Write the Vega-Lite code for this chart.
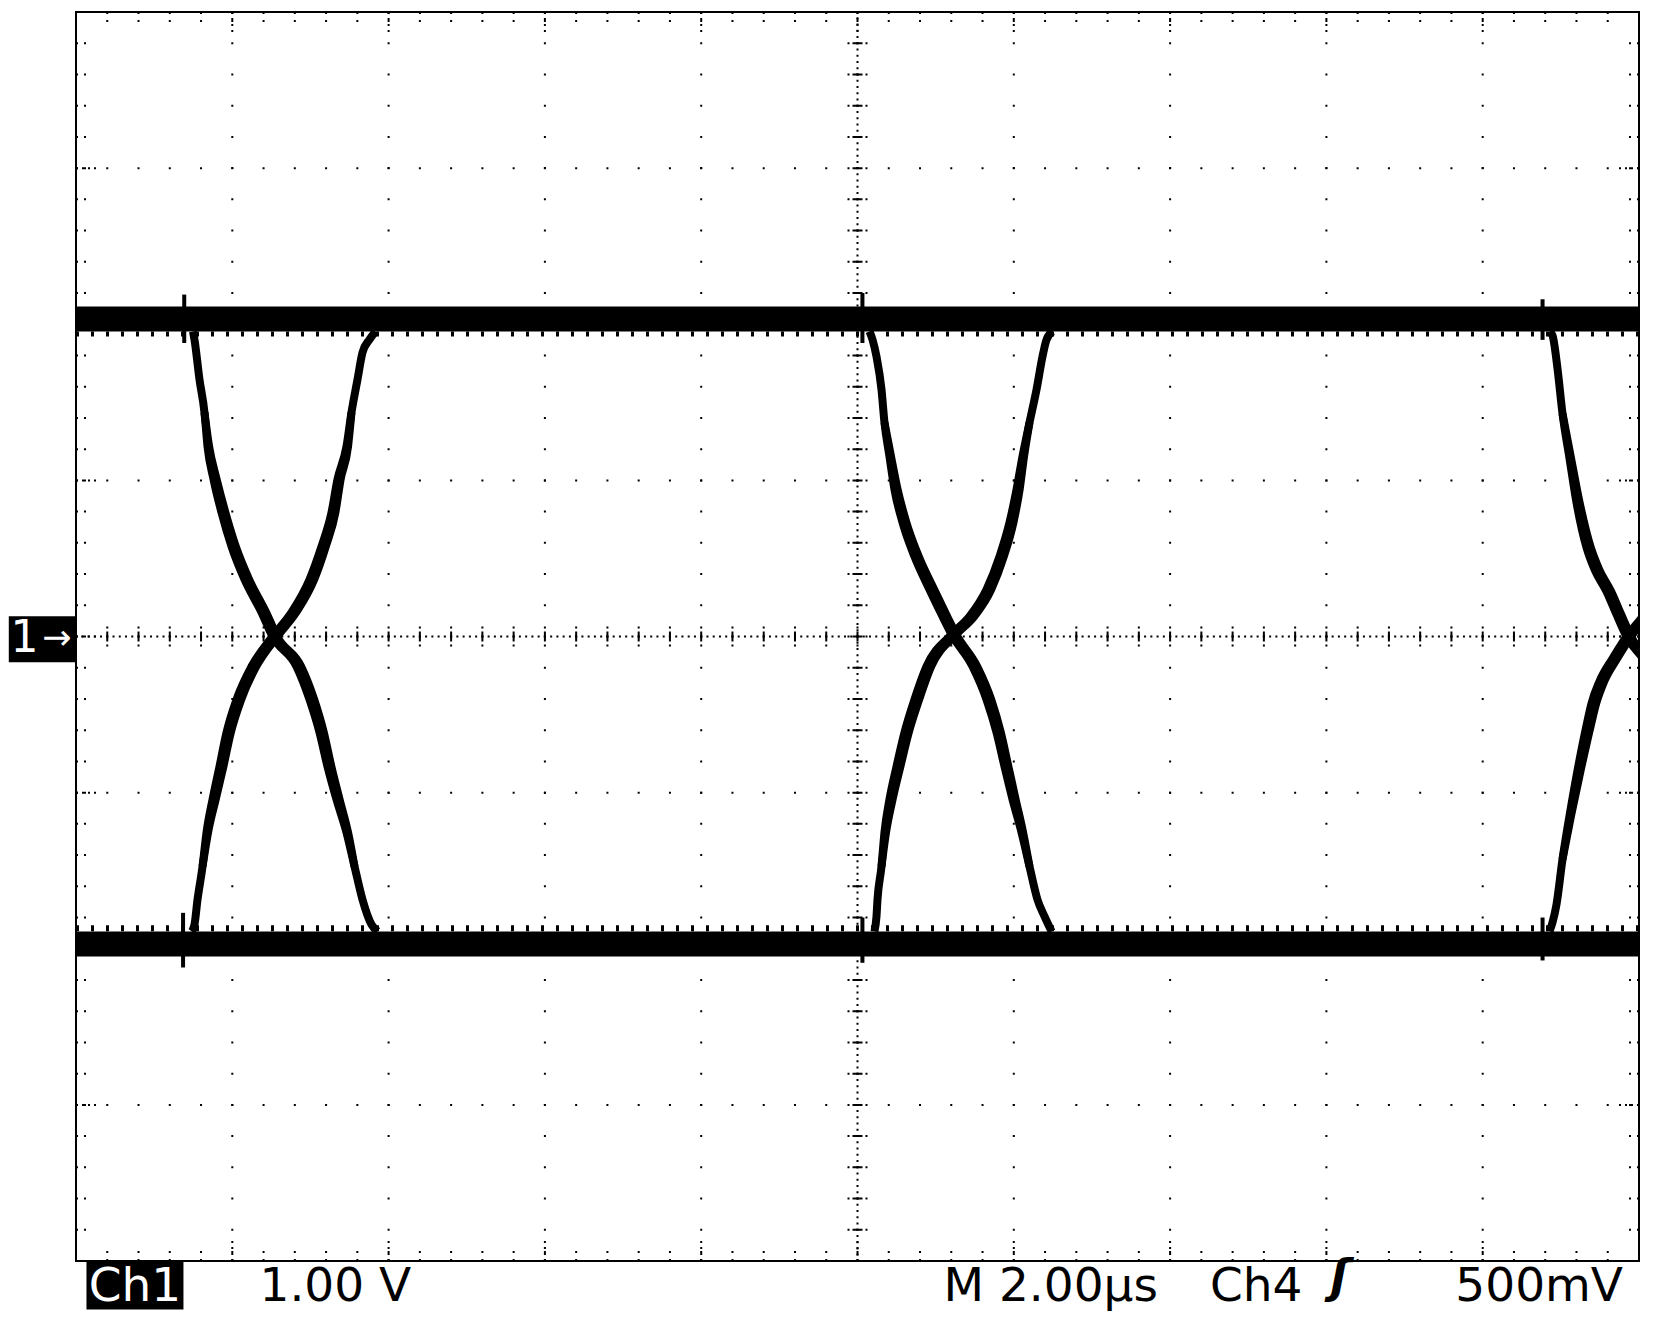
{
 "$schema": "https://vega.github.io/schema/vega-lite/v6.json",
 "width": 1563, "height": 1249,
 "autosize": {"type": "none"},
 "padding": {"left": 76, "top": 12, "right": 21, "bottom": 65},
 "background": "white",
 "config": {"view": {"stroke": "black", "strokeWidth": 2}, "axis": {"disable": true}},
 "datasets": {
  "txall": [{"t":0.4},{"t":0.8},{"t":1.2},{"t":1.6},{"t":2},{"t":2.4},{"t":2.8},{"t":3.2},{"t":3.6},{"t":4},{"t":4.4},{"t":4.8},{"t":5.2},{"t":5.6},{"t":6},{"t":6.4},{"t":6.8},{"t":7.2},{"t":7.6},{"t":8},{"t":8.4},{"t":8.8},{"t":9.2},{"t":9.6},{"t":10},{"t":10.4},{"t":10.8},{"t":11.2},{"t":11.6},{"t":12},{"t":12.4},{"t":12.8},{"t":13.2},{"t":13.6},{"t":14},{"t":14.4},{"t":14.8},{"t":15.2},{"t":15.6},{"t":16},{"t":16.4},{"t":16.8},{"t":17.2},{"t":17.6},{"t":18},{"t":18.4},{"t":18.8},{"t":19.2},{"t":19.6}],
  "tmaj": [{"t":2},{"t":4},{"t":6},{"t":8},{"t":10},{"t":12},{"t":14},{"t":16},{"t":18}],
  "vyall": [{"v":-3.8},{"v":-3.6},{"v":-3.4},{"v":-3.2},{"v":-3},{"v":-2.8},{"v":-2.6},{"v":-2.4},{"v":-2.2},{"v":-2},{"v":-1.8},{"v":-1.6},{"v":-1.4},{"v":-1.2},{"v":-1},{"v":-0.8},{"v":-0.6},{"v":-0.4},{"v":-0.2},{"v":0},{"v":0.2},{"v":0.4},{"v":0.6},{"v":0.8},{"v":1},{"v":1.2},{"v":1.4},{"v":1.6},{"v":1.8},{"v":2},{"v":2.2},{"v":2.4},{"v":2.6},{"v":2.8},{"v":3},{"v":3.2},{"v":3.4},{"v":3.6},{"v":3.8}],
  "vmaj": [{"v":-3},{"v":-2},{"v":-1},{"v":0},{"v":1},{"v":2},{"v":3}],
  "bands": [{"t1":0,"t2":20,"v1":1.954,"v2":2.114},{"t1":0,"t2":20,"v1":-1.889,"v2":-2.05}],
  "spikes": [{"t":1.385,"v1":1.88,"v2":2.19},{"t":1.37,"v1":-1.77,"v2":-2.12},{"t":10.063,"v1":1.88,"v2":2.2},{"t":10.063,"v1":-1.8,"v2":-2.09},{"t":18.766,"v1":1.9,"v2":2.16},{"t":18.766,"v1":-1.8,"v2":-2.075}],
  "traces": [
   {"e":"1f","t":1.497,"v":1.954},{"e":"1f","t":1.516,"v":1.902},{"e":"1f","t":1.58,"v":1.646},{"e":"1f","t":1.644,"v":1.435},{"e":"1f","t":1.683,"v":1.217},{"e":"1f","t":1.76,"v":1.006},{"e":"1f","t":1.862,"v":0.794},{"e":"1f","t":1.99,"v":0.576},{"e":"1f","t":2.156,"v":0.365},{"e":"1f","t":2.374,"v":0.154},{"e":"1f","t":2.514,"v":0},{"e":"1f","t":2.821,"v":-0.192},{"e":"1f","t":2.988,"v":-0.404},{"e":"1f","t":3.116,"v":-0.615},{"e":"1f","t":3.218,"v":-0.833},{"e":"1f","t":3.333,"v":-1.044},{"e":"1f","t":3.461,"v":-1.255},{"e":"1f","t":3.564,"v":-1.473},{"e":"1f","t":3.666,"v":-1.685},{"e":"1f","t":3.781,"v":-1.845},{"e":"1f","t":3.858,"v":-1.889},
   {"e":"1r","t":1.481,"v":-1.889},{"e":"1r","t":1.516,"v":-1.845},{"e":"1r","t":1.555,"v":-1.685},{"e":"1r","t":1.619,"v":-1.473},{"e":"1r","t":1.67,"v":-1.255},{"e":"1r","t":1.747,"v":-1.044},{"e":"1r","t":1.836,"v":-0.833},{"e":"1r","t":1.926,"v":-0.615},{"e":"1r","t":2.054,"v":-0.404},{"e":"1r","t":2.246,"v":-0.192},{"e":"1r","t":2.514,"v":0},{"e":"1r","t":2.757,"v":0.154},{"e":"1r","t":2.988,"v":0.365},{"e":"1r","t":3.141,"v":0.576},{"e":"1r","t":3.269,"v":0.794},{"e":"1r","t":3.346,"v":1.006},{"e":"1r","t":3.461,"v":1.217},{"e":"1r","t":3.525,"v":1.435},{"e":"1r","t":3.602,"v":1.646},{"e":"1r","t":3.666,"v":1.819},{"e":"1r","t":3.755,"v":1.902},{"e":"1r","t":3.832,"v":1.954},
   {"e":"2f","t":10.153,"v":1.954},{"e":"2f","t":10.192,"v":1.902},{"e":"2f","t":10.243,"v":1.793},{"e":"2f","t":10.307,"v":1.582},{"e":"2f","t":10.345,"v":1.371},{"e":"2f","t":10.409,"v":1.153},{"e":"2f","t":10.473,"v":0.942},{"e":"2f","t":10.576,"v":0.73},{"e":"2f","t":10.729,"v":0.512},{"e":"2f","t":10.921,"v":0.301},{"e":"2f","t":11.088,"v":0.128},{"e":"2f","t":11.203,"v":0.013},{"e":"2f","t":11.472,"v":-0.192},{"e":"2f","t":11.651,"v":-0.404},{"e":"2f","t":11.779,"v":-0.615},{"e":"2f","t":11.881,"v":-0.833},{"e":"2f","t":11.984,"v":-1.044},{"e":"2f","t":12.099,"v":-1.255},{"e":"2f","t":12.201,"v":-1.473},{"e":"2f","t":12.303,"v":-1.685},{"e":"2f","t":12.393,"v":-1.793},{"e":"2f","t":12.483,"v":-1.889},
   {"e":"2r","t":10.217,"v":-1.889},{"e":"2r","t":10.243,"v":-1.793},{"e":"2r","t":10.256,"v":-1.685},{"e":"2r","t":10.307,"v":-1.473},{"e":"2r","t":10.345,"v":-1.255},{"e":"2r","t":10.409,"v":-1.044},{"e":"2r","t":10.499,"v":-0.833},{"e":"2r","t":10.601,"v":-0.615},{"e":"2r","t":10.729,"v":-0.404},{"e":"2r","t":10.883,"v":-0.192},{"e":"2r","t":11.203,"v":0.013},{"e":"2r","t":11.433,"v":0.128},{"e":"2r","t":11.651,"v":0.301},{"e":"2r","t":11.817,"v":0.512},{"e":"2r","t":11.945,"v":0.73},{"e":"2r","t":12.035,"v":0.942},{"e":"2r","t":12.111,"v":1.153},{"e":"2r","t":12.201,"v":1.371},{"e":"2r","t":12.291,"v":1.582},{"e":"2r","t":12.367,"v":1.793},{"e":"2r","t":12.419,"v":1.902},{"e":"2r","t":12.496,"v":1.954},
   {"e":"3f","t":18.855,"v":1.954},{"e":"3f","t":18.893,"v":1.928},{"e":"3f","t":18.957,"v":1.717},{"e":"3f","t":19.021,"v":1.428},{"e":"3f","t":19.111,"v":1.14},{"e":"3f","t":19.2,"v":0.858},{"e":"3f","t":19.328,"v":0.57},{"e":"3f","t":19.431,"v":0.429},{"e":"3f","t":19.584,"v":0.288},{"e":"3f","t":19.712,"v":0.141},{"e":"3f","t":19.84,"v":0},{"e":"3f","t":20.109,"v":-0.192},{"e":"3f","t":20.275,"v":-0.404},
   {"e":"3r","t":18.855,"v":-1.889},{"e":"3r","t":18.893,"v":-1.832},{"e":"3r","t":18.944,"v":-1.717},{"e":"3r","t":19.021,"v":-1.428},{"e":"3r","t":19.111,"v":-1.147},{"e":"3r","t":19.213,"v":-0.858},{"e":"3r","t":19.328,"v":-0.57},{"e":"3r","t":19.392,"v":-0.429},{"e":"3r","t":19.494,"v":-0.288},{"e":"3r","t":19.661,"v":-0.141},{"e":"3r","t":19.84,"v":0},{"e":"3r","t":20.083,"v":0.154},{"e":"3r","t":20.314,"v":0.365},
   {"e":"1fb","t":1.644,"v":1.435},{"e":"1fb","t":1.703,"v":1.217},{"e":"1fb","t":1.8,"v":1.006},{"e":"1fb","t":1.912,"v":0.794},{"e":"1fb","t":2.045,"v":0.576},{"e":"1fb","t":2.216,"v":0.365},{"e":"1fb","t":2.434,"v":0.154},{"e":"1fb","t":2.574,"v":0},{"e":"1fb","t":2.881,"v":-0.192},{"e":"1fb","t":3.048,"v":-0.404},{"e":"1fb","t":3.171,"v":-0.615},{"e":"1fb","t":3.268,"v":-0.833},{"e":"1fb","t":3.373,"v":-1.044},{"e":"1fb","t":3.481,"v":-1.255},{"e":"1fb","t":3.564,"v":-1.473},
   {"e":"1rb","t":1.619,"v":-1.473},{"e":"1rb","t":1.69,"v":-1.255},{"e":"1rb","t":1.787,"v":-1.044},{"e":"1rb","t":1.886,"v":-0.833},{"e":"1rb","t":1.981,"v":-0.615},{"e":"1rb","t":2.114,"v":-0.404},{"e":"1rb","t":2.306,"v":-0.192},{"e":"1rb","t":2.574,"v":0},{"e":"1rb","t":2.817,"v":0.154},{"e":"1rb","t":3.048,"v":0.365},{"e":"1rb","t":3.196,"v":0.576},{"e":"1rb","t":3.319,"v":0.794},{"e":"1rb","t":3.386,"v":1.006},{"e":"1rb","t":3.481,"v":1.217},{"e":"1rb","t":3.525,"v":1.435},
   {"e":"2fb","t":10.345,"v":1.371},{"e":"2fb","t":10.429,"v":1.153},{"e":"2fb","t":10.513,"v":0.942},{"e":"2fb","t":10.626,"v":0.73},{"e":"2fb","t":10.784,"v":0.512},{"e":"2fb","t":10.981,"v":0.301},{"e":"2fb","t":11.148,"v":0.128},{"e":"2fb","t":11.263,"v":0.013},{"e":"2fb","t":11.532,"v":-0.192},{"e":"2fb","t":11.711,"v":-0.404},{"e":"2fb","t":11.834,"v":-0.615},{"e":"2fb","t":11.931,"v":-0.833},{"e":"2fb","t":12.024,"v":-1.044},{"e":"2fb","t":12.119,"v":-1.255},{"e":"2fb","t":12.201,"v":-1.473},
   {"e":"2rb","t":10.307,"v":-1.473},{"e":"2rb","t":10.365,"v":-1.255},{"e":"2rb","t":10.449,"v":-1.044},{"e":"2rb","t":10.549,"v":-0.833},{"e":"2rb","t":10.656,"v":-0.615},{"e":"2rb","t":10.789,"v":-0.404},{"e":"2rb","t":10.943,"v":-0.192},{"e":"2rb","t":11.263,"v":0.013},{"e":"2rb","t":11.493,"v":0.128},{"e":"2rb","t":11.711,"v":0.301},{"e":"2rb","t":11.872,"v":0.512},{"e":"2rb","t":11.995,"v":0.73},{"e":"2rb","t":12.075,"v":0.942},{"e":"2rb","t":12.131,"v":1.153},{"e":"2rb","t":12.201,"v":1.371},
   {"e":"3fb","t":19.021,"v":1.428},{"e":"3fb","t":19.131,"v":1.14},{"e":"3fb","t":19.24,"v":0.858},{"e":"3fb","t":19.383,"v":0.57},{"e":"3fb","t":19.491,"v":0.429},{"e":"3fb","t":19.644,"v":0.288},{"e":"3fb","t":19.772,"v":0.141},{"e":"3fb","t":19.9,"v":0},{"e":"3fb","t":20.169,"v":-0.192},
   {"e":"3rb","t":19.021,"v":-1.428},{"e":"3rb","t":19.131,"v":-1.147},{"e":"3rb","t":19.253,"v":-0.858},{"e":"3rb","t":19.383,"v":-0.57},{"e":"3rb","t":19.452,"v":-0.429},{"e":"3rb","t":19.554,"v":-0.288},{"e":"3rb","t":19.721,"v":-0.141},{"e":"3rb","t":19.9,"v":0},{"e":"3rb","t":20.143,"v":0.154}
  ]
 },
 "layer": [
  {"data":{"name":"tmaj"},"mark":{"type":"rule","color":"black","strokeWidth":2,"strokeDash":[2,29.225],"strokeDashOffset":1},
   "encoding":{"x":{"field":"t","type":"quantitative","scale":{"domain":[0,20],"nice":false,"zero":false}},"y":{"datum":4,"type":"quantitative","scale":{"domain":[-4,4],"nice":false,"zero":false}},"y2":{"datum":-4}}},
  {"data":{"name":"vmaj"},"mark":{"type":"rule","color":"black","strokeWidth":2,"strokeDash":[2,29.26],"strokeDashOffset":1},
   "encoding":{"y":{"field":"v","type":"quantitative","scale":{"domain":[-4,4],"nice":false,"zero":false}},"x":{"datum":0,"type":"quantitative","scale":{"domain":[0,20],"nice":false,"zero":false}},"x2":{"datum":20}}},
  {"data":{"values":[{}]},"mark":{"type":"rule","color":"black","strokeWidth":2,"strokeDash":[2,4.245],"strokeDashOffset":1},
   "encoding":{"x":{"datum":10,"type":"quantitative","scale":{"domain":[0,20],"nice":false,"zero":false}},"y":{"datum":4,"type":"quantitative","scale":{"domain":[-4,4],"nice":false,"zero":false}},"y2":{"datum":-4}}},
  {"data":{"values":[{}]},"mark":{"type":"rule","color":"black","strokeWidth":2,"strokeDash":[2,4.252],"strokeDashOffset":1},
   "encoding":{"y":{"datum":0,"type":"quantitative","scale":{"domain":[-4,4],"nice":false,"zero":false}},"x":{"datum":0,"type":"quantitative","scale":{"domain":[0,20],"nice":false,"zero":false}},"x2":{"datum":20}}},
  {"data":{"name":"txall"},"mark":{"type":"rule","color":"black","strokeWidth":2,"strokeDash":[2,3,10,3,2]},
   "encoding":{"x":{"field":"t","type":"quantitative","scale":{"domain":[0,20],"nice":false,"zero":false}},"y":{"datum":0.064,"type":"quantitative","scale":{"domain":[-4,4],"nice":false,"zero":false}},"y2":{"datum":-0.064}}},
  {"data":{"name":"vyall"},"mark":{"type":"rule","color":"black","strokeWidth":2,"strokeDash":[2,3,10,3,2]},
   "encoding":{"y":{"field":"v","type":"quantitative","scale":{"domain":[-4,4],"nice":false,"zero":false}},"x":{"datum":9.872,"type":"quantitative","scale":{"domain":[0,20],"nice":false,"zero":false}},"x2":{"datum":10.128}}},
  {"data":{"name":"txall"},"mark":{"type":"rule","color":"black","strokeWidth":2,"strokeDash":[2,6,2]},
   "encoding":{"x":{"field":"t","type":"quantitative","scale":{"domain":[0,20],"nice":false,"zero":false}},"y":{"datum":-4,"type":"quantitative","scale":{"domain":[-4,4],"nice":false,"zero":false}},"y2":{"datum":-3.936}}},
  {"data":{"name":"txall"},"mark":{"type":"rule","color":"black","strokeWidth":2,"strokeDash":[2,6,2]},
   "encoding":{"x":{"field":"t","type":"quantitative","scale":{"domain":[0,20],"nice":false,"zero":false}},"y":{"datum":4,"type":"quantitative","scale":{"domain":[-4,4],"nice":false,"zero":false}},"y2":{"datum":3.936}}},
  {"data":{"name":"vyall"},"mark":{"type":"rule","color":"black","strokeWidth":2,"strokeDash":[2,6,2]},
   "encoding":{"y":{"field":"v","type":"quantitative","scale":{"domain":[-4,4],"nice":false,"zero":false}},"x":{"datum":0,"type":"quantitative","scale":{"domain":[0,20],"nice":false,"zero":false}},"x2":{"datum":0.128}}},
  {"data":{"name":"vyall"},"mark":{"type":"rule","color":"black","strokeWidth":2,"strokeDash":[2,6,2]},
   "encoding":{"y":{"field":"v","type":"quantitative","scale":{"domain":[-4,4],"nice":false,"zero":false}},"x":{"datum":20,"type":"quantitative","scale":{"domain":[0,20],"nice":false,"zero":false}},"x2":{"datum":19.872}}},
  {"data":{"name":"tmaj"},"mark":{"type":"rule","color":"black","strokeWidth":2,"strokeDash":[2,4]},
   "encoding":{"x":{"field":"t","type":"quantitative","scale":{"domain":[0,20],"nice":false,"zero":false}},"y":{"datum":-4,"type":"quantitative","scale":{"domain":[-4,4],"nice":false,"zero":false}},"y2":{"datum":-3.872}}},
  {"data":{"name":"tmaj"},"mark":{"type":"rule","color":"black","strokeWidth":2,"strokeDash":[2,4]},
   "encoding":{"x":{"field":"t","type":"quantitative","scale":{"domain":[0,20],"nice":false,"zero":false}},"y":{"datum":4,"type":"quantitative","scale":{"domain":[-4,4],"nice":false,"zero":false}},"y2":{"datum":3.872}}},
  {"data":{"name":"vmaj"},"mark":{"type":"rule","color":"black","strokeWidth":2,"strokeDash":[2,4]},
   "encoding":{"y":{"field":"v","type":"quantitative","scale":{"domain":[-4,4],"nice":false,"zero":false}},"x":{"datum":0,"type":"quantitative","scale":{"domain":[0,20],"nice":false,"zero":false}},"x2":{"datum":0.256}}},
  {"data":{"name":"vmaj"},"mark":{"type":"rule","color":"black","strokeWidth":2,"strokeDash":[2,4]},
   "encoding":{"y":{"field":"v","type":"quantitative","scale":{"domain":[-4,4],"nice":false,"zero":false}},"x":{"datum":20,"type":"quantitative","scale":{"domain":[0,20],"nice":false,"zero":false}},"x2":{"datum":19.744}}},
  {"data":{"name":"bands"},"mark":{"type":"rect","color":"black"},
   "encoding":{"x":{"field":"t1","type":"quantitative","scale":{"domain":[0,20],"nice":false,"zero":false}},"x2":{"field":"t2"},"y":{"field":"v1","type":"quantitative","scale":{"domain":[-4,4],"nice":false,"zero":false}},"y2":{"field":"v2"}}},
  {"data":{"values":[{}]},"mark":{"type":"rule","color":"black","strokeWidth":5,"strokeDash":[3,12]},
   "encoding":{"y":{"datum":1.938,"type":"quantitative","scale":{"domain":[-4,4],"nice":false,"zero":false}},"x":{"datum":0,"type":"quantitative","scale":{"domain":[0,20],"nice":false,"zero":false}},"x2":{"datum":20}}},
  {"data":{"values":[{}]},"mark":{"type":"rule","color":"black","strokeWidth":6,"strokeDash":[3,12]},
   "encoding":{"y":{"datum":-1.868,"type":"quantitative","scale":{"domain":[-4,4],"nice":false,"zero":false}},"x":{"datum":0,"type":"quantitative","scale":{"domain":[0,20],"nice":false,"zero":false}},"x2":{"datum":20}}},
  {"data":{"name":"spikes"},"mark":{"type":"rule","color":"black","strokeWidth":4},
   "encoding":{"x":{"field":"t","type":"quantitative","scale":{"domain":[0,20],"nice":false,"zero":false}},"y":{"field":"v1","type":"quantitative","scale":{"domain":[-4,4],"nice":false,"zero":false}},"y2":{"field":"v2"}}},
  {"data":{"name":"traces"},"mark":{"type":"line","color":"black","strokeWidth":8,"strokeJoin":"round","interpolate":"monotone","clip":true},
   "encoding":{"x":{"field":"t","type":"quantitative","scale":{"domain":[0,20],"nice":false,"zero":false}},"y":{"field":"v","type":"quantitative","scale":{"domain":[-4,4],"nice":false,"zero":false}},"detail":{"field":"e"},"order":{"field":"t","type":"quantitative"}}},
  {"data":{"values":[{}]},"mark":{"type":"rect","color":"black"},
   "encoding":{"x":{"datum":0.134,"type":"quantitative","scale":{"domain":[0,20],"nice":false,"zero":false}},"x2":{"datum":1.375},"y":{"datum":-4.0,"type":"quantitative","scale":{"domain":[-4,4],"nice":false,"zero":false}},"y2":{"datum":-4.31}}},
  {"data":{"values":[{}]},"mark":{"type":"text","text":"Ch1","font":"DejaVu Sans","fontSize":47,"align":"center","baseline":"alphabetic","color":"white"},
   "encoding":{"x":{"datum":0.755,"type":"quantitative","scale":{"domain":[0,20],"nice":false,"zero":false}},"y":{"datum":-4.259,"type":"quantitative","scale":{"domain":[-4,4],"nice":false,"zero":false}}}},
  {"data":{"values":[{}]},"mark":{"type":"text","text":"1.00 V","font":"DejaVu Sans","fontSize":47,"align":"left","baseline":"alphabetic","color":"black"},
   "encoding":{"x":{"datum":2.348,"type":"quantitative","scale":{"domain":[0,20],"nice":false,"zero":false}},"y":{"datum":-4.259,"type":"quantitative","scale":{"domain":[-4,4],"nice":false,"zero":false}}}},
  {"data":{"values":[{}]},"mark":{"type":"text","text":"M 2.00µs","font":"DejaVu Sans","fontSize":47,"align":"left","baseline":"alphabetic","color":"black"},
   "encoding":{"x":{"datum":11.1,"type":"quantitative","scale":{"domain":[0,20],"nice":false,"zero":false}},"y":{"datum":-4.259,"type":"quantitative","scale":{"domain":[-4,4],"nice":false,"zero":false}}}},
  {"data":{"values":[{}]},"mark":{"type":"text","text":"Ch4","font":"DejaVu Sans","fontSize":47,"align":"left","baseline":"alphabetic","color":"black"},
   "encoding":{"x":{"datum":14.51,"type":"quantitative","scale":{"domain":[0,20],"nice":false,"zero":false}},"y":{"datum":-4.259,"type":"quantitative","scale":{"domain":[-4,4],"nice":false,"zero":false}}}},
  {"data":{"values":[{}]},"mark":{"type":"text","text":"ʃ","font":"DejaVu Sans","fontSize":46,"fontWeight":"bold","fontStyle":"italic","align":"center","baseline":"alphabetic","color":"black"},
   "encoding":{"x":{"datum":16.17,"type":"quantitative","scale":{"domain":[0,20],"nice":false,"zero":false}},"y":{"datum":-4.2,"type":"quantitative","scale":{"domain":[-4,4],"nice":false,"zero":false}}}},
  {"data":{"values":[{}]},"mark":{"type":"text","text":"500mV","font":"DejaVu Sans","fontSize":47,"align":"left","baseline":"alphabetic","color":"black"},
   "encoding":{"x":{"datum":17.65,"type":"quantitative","scale":{"domain":[0,20],"nice":false,"zero":false}},"y":{"datum":-4.259,"type":"quantitative","scale":{"domain":[-4,4],"nice":false,"zero":false}}}},
  {"data":{"values":[{}]},"mark":{"type":"rect","color":"black"},
   "encoding":{"x":{"datum":-0.86,"type":"quantitative","scale":{"domain":[0,20],"nice":false,"zero":false}},"x2":{"datum":0},"y":{"datum":0.13,"type":"quantitative","scale":{"domain":[-4,4],"nice":false,"zero":false}},"y2":{"datum":-0.165}}},
  {"data":{"values":[{}]},"mark":{"type":"text","text":"1","font":"DejaVu Sans","fontSize":44,"align":"center","baseline":"alphabetic","color":"white"},
   "encoding":{"x":{"datum":-0.659,"type":"quantitative","scale":{"domain":[0,20],"nice":false,"zero":false}},"y":{"datum":-0.1,"type":"quantitative","scale":{"domain":[-4,4],"nice":false,"zero":false}}}},
  {"data":{"values":[{}]},"mark":{"type":"text","text":"→","font":"DejaVu Sans","fontSize":35,"align":"center","baseline":"alphabetic","color":"white"},
   "encoding":{"x":{"datum":-0.243,"type":"quantitative","scale":{"domain":[0,20],"nice":false,"zero":false}},"y":{"datum":-0.08,"type":"quantitative","scale":{"domain":[-4,4],"nice":false,"zero":false}}}}
 ]
}
